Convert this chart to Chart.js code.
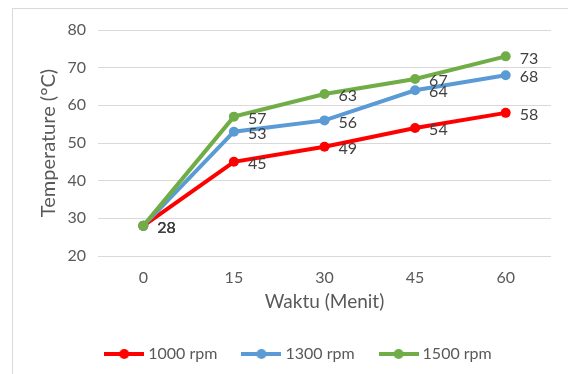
<!DOCTYPE html>
<html>
<head>
<meta charset="utf-8">
<script src="https://cdn.jsdelivr.net/npm/chart.js@4"></script>
<style>
  html, body { margin: 0; padding: 0; background: #fff; overflow: hidden; }
  #wrap { position: absolute; left: 0; top: 0; width: 568px; height: 374px; }
</style>
</head>
<body>
<div id="wrap"><canvas id="chart" width="568" height="374"></canvas></div>
<script>
const categories = ['0', '15', '30', '45', '60'];
const rpm1000 = [28, 45, 49, 54, 58];
const rpm1300 = [28, 53, 56, 64, 68];
const rpm1500 = [28, 57, 63, 67, 73];
const seriesNames = ['1000 rpm', '1300 rpm', '1500 rpm'];
const seriesColors = ['#ff0000', '#5b9bd5', '#70ad47'];

const FONT = 'Lato, "Liberation Sans", sans-serif';

// legend symbol: short line with a dot, like the Excel legend
function legendSymbol(color) {
  const c = document.createElement('canvas');
  c.width = 40; c.height = 12;
  const ctx = c.getContext('2d');
  ctx.strokeStyle = color;
  ctx.lineWidth = 4;
  ctx.beginPath();
  ctx.moveTo(0, 6);
  ctx.lineTo(40, 6);
  ctx.stroke();
  ctx.fillStyle = color;
  ctx.beginPath();
  ctx.arc(20, 6, 5, 0, Math.PI * 2);
  ctx.fill();
  return c;
}

const frame = {
  id: 'frame',
  beforeDraw(chart) {
    const ctx = chart.ctx;
    ctx.save();
    ctx.strokeStyle = '#d9d9d9';
    ctx.lineWidth = 1;
    ctx.strokeRect(12.5, 8.5, 600, 400);
    ctx.restore();
  },
  afterLayout(chart) {
    // nudge the legend to the right, Excel centres it a bit off
    chart.legend.left += 18;
    chart.legend.right += 18;
  }
};

const valueLabels = {
  id: 'valueLabels',
  afterDatasetsDraw(chart) {
    const ctx = chart.ctx;
    ctx.save();
    ctx.font = '16px ' + FONT;
    ctx.fillStyle = '#404040';
    ctx.textAlign = 'left';
    ctx.textBaseline = 'middle';
    chart.data.datasets.forEach((ds, i) => {
      chart.getDatasetMeta(i).data.forEach((pt, j) => {
        ctx.fillText(ds.data[j], pt.x + 14, pt.y + 2);
      });
    });
    ctx.restore();
  }
};

const datasets = [rpm1000, rpm1300, rpm1500].map((vals, i) => ({
  label: seriesNames[i],
  data: vals,
  borderColor: seriesColors[i],
  backgroundColor: seriesColors[i],
  borderWidth: 4,
  pointRadius: 5,
  pointBorderWidth: 0,
  pointStyle: 'circle',
  tension: 0,
  order: 2 - i
}));

new Chart(document.getElementById('chart'), {
  type: 'line',
  data: { labels: categories, datasets },
  plugins: [frame, valueLabels],
  options: {
    responsive: false,
    animation: false,
    layout: { padding: { left: 13, right: 17, top: 30, bottom: 2 } },
    plugins: {
      tooltip: { enabled: false },
      legend: {
        position: 'bottom',
        labels: {
          usePointStyle: true,
          pointStyleWidth: 32,
          padding: 28,
          color: '#595959',
          font: { family: FONT, size: 16 },
          generateLabels(chart) {
            return seriesNames.map((name, i) => ({
              text: name,
              pointStyle: legendSymbol(seriesColors[i]),
              fillStyle: seriesColors[i],
              strokeStyle: seriesColors[i],
              lineWidth: 0,
              fontColor: '#595959',
              datasetIndex: i
            }));
          }
        }
      }
    },
    scales: {
      x: {
        offset: true,
        afterFit(scale) { scale.height = 62; },
        grid: { display: false, drawTicks: false },
        border: { display: false },
        ticks: { color: '#595959', font: { family: FONT, size: 16 }, padding: 12 },
        title: {
          display: true,
          text: 'Waktu (Menit)',
          color: '#595959',
          font: { family: FONT, size: 19 },
          padding: { top: 0, bottom: 5 }
        }
      },
      y: {
        min: 20,
        max: 80,
        afterFit(scale) { scale.width = 85; },
        grid: { color: '#d9d9d9', lineWidth: 1, drawTicks: false },
        border: { display: false },
        ticks: { stepSize: 10, color: '#595959', font: { family: FONT, size: 16 }, padding: 12 },
        title: {
          display: true,
          text: 'Temperature (°C)',
          color: '#595959',
          font: { family: FONT, size: 20 },
          padding: { top: 24, bottom: 0 }
        }
      }
    }
  }
});
</script>
</body>
</html>
